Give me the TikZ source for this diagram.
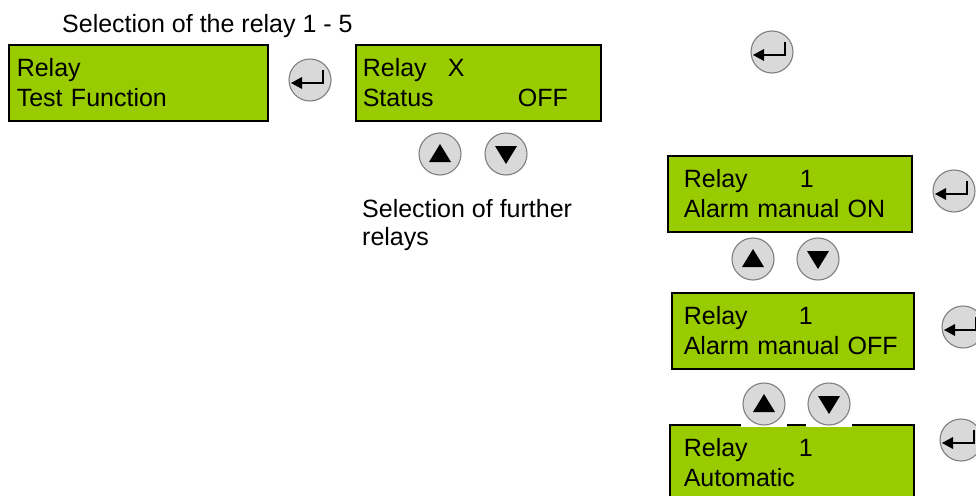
\documentclass[tikz,border=0pt]{standalone}
\usepackage{xcolor}
\usepackage{fontspec}
\setmainfont{Liberation Sans}
\usepackage{tikz}
\definecolor{LcdGreen}{HTML}{99CC00}
\definecolor{KeyFill}{HTML}{D9D9D9}
\definecolor{KeyEdge}{HTML}{7F7F7F}
\newcommand{\lcdfont}{\fontsize{25}{30}\selectfont}

\begin{document}
\begin{tikzpicture}[
  x=1pt, y=-1pt,
  font=\lcdfont,
  lcd/.style={draw=black, line width=1.6pt, fill=LcdGreen, anchor=north west, align=left, minimum height=76pt, inner ysep=0pt},
  keybtn/.style={rectangle, fill=white, minimum size=46pt, inner sep=0pt},
  keyface/.style={fill=KeyFill, draw=KeyEdge, line width=1.1pt},
  keymark/.style={fill=black, draw=none},
  enterkey/.style={keybtn, path picture={
    \begin{scope}[shift={(path picture bounding box.center)}]
      \path[keyface] (0,0) circle (21pt);
      \draw[black, line width=2.6pt] (13,-10) -- (13,3) -- (-9,3);
      \path[keymark] (-19,3) -- (-8,-3) -- (-8,9) -- cycle;
    \end{scope}}},
  upkey/.style={keybtn, path picture={
    \begin{scope}[shift={(path picture bounding box.center)}]
      \path[keyface] (0,0) circle (21pt);
      \path[keymark] (0,-10) -- (11,8) -- (-11,8) -- cycle;
    \end{scope}}},
  downkey/.style={keybtn, path picture={
    \begin{scope}[shift={(path picture bounding box.center)}]
      \path[keyface] (0,0) circle (21pt);
      \path[keymark] (0,10) -- (11,-8) -- (-11,-8) -- cycle;
    \end{scope}}},
  note/.style={inner sep=0pt, align=left}
]
\useasboundingbox (0,0) rectangle (976,495);
\clip (0,0) rectangle (976,495);

% left part
\node[note, anchor=base west] (selrelay) at (62,33) {Selection of the relay 1 - 5};
\node[lcd, text width=243pt, inner xsep=8pt] (menu) at (8,44) {Relay\\Test Function};
\node[enterkey] (ent1) at (310,80) {};
\node[lcd, text width=231pt, inner xsep=7pt] (status) at (355,44) {\makebox[85pt][l]{Relay}X\\\makebox[155pt][l]{Status}OFF};
\node[upkey] (up1) at (440,154) {};
\node[downkey] (dn1) at (506,154) {};
\node[note, anchor=north west, font=\fontsize{25}{28}\selectfont] (selfurther) at (362,199) {Selection of further\\relays};

% right part
\node[enterkey] (ent2) at (772,52) {};
\node[lcd, text width=212pt, inner xsep=16pt] (alarmon) at (667,155) {\makebox[116pt][l]{Relay}1\\Alarm manual ON};
\node[enterkey] (ent3) at (954,191) {};
\node[upkey] (up2) at (753,259) {};
\node[downkey] (dn2) at (818,259) {};
\node[lcd, text width=218pt, inner xsep=12pt] (alarmoff) at (671,292) {\makebox[115pt][l]{Relay}1\\Alarm manual OFF};
\node[enterkey] (ent4) at (963,327) {};
\node[lcd, text width=216pt, inner xsep=14pt] (auto) at (669,424) {\makebox[115pt][l]{Relay}1\\Automatic};
\node[upkey] (up3) at (764,404) {};
\node[downkey] (dn3) at (829,404) {};
\node[enterkey] (ent5) at (961,440) {};
\end{tikzpicture}
\end{document}
